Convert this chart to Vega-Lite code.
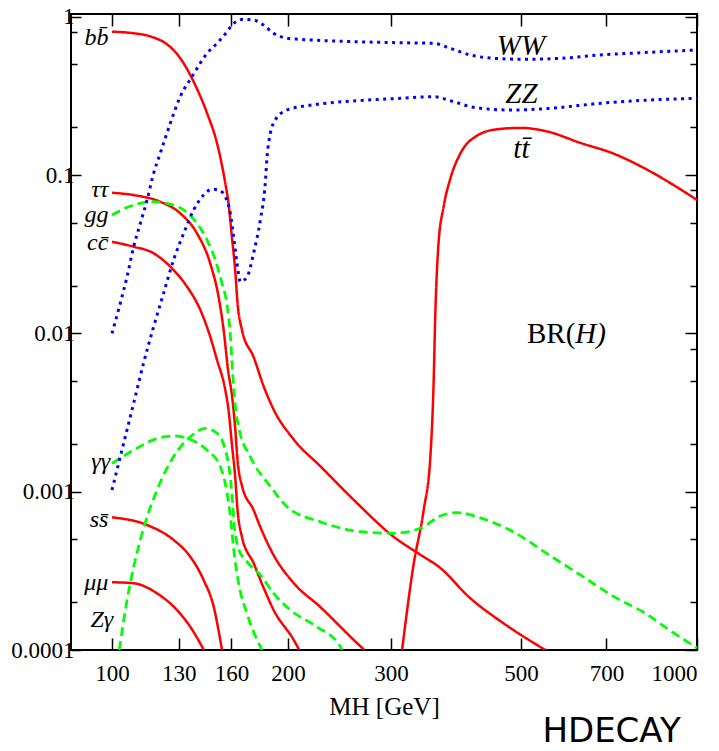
{
"$schema":"https://vega.github.io/schema/vega-lite/v6.json",
"width":626,"height":636,
"autosize":{"type":"none"},
"padding":{"left":71,"top":14,"right":22,"bottom":101},
"title":{"text":"HDECAY","orient":"bottom","anchor":"end","font":"DejaVu Sans","fontSize":34,"fontWeight":"normal","color":"black","offset":-4,"dx":-17},
"config":{"view":{"stroke":"black","strokeWidth":2}},
"datasets":{
"curves":[
{"ch":"bb","k":"f","M":100,"BR":0.806},{"ch":"bb","k":"f","M":108,"BR":0.79},{"ch":"bb","k":"f","M":116.3,"BR":0.752},{"ch":"bb","k":"f","M":124.2,"BR":0.67},{"ch":"bb","k":"f","M":128.3,"BR":0.6},{"ch":"bb","k":"f","M":132.6,"BR":0.508},{"ch":"bb","k":"f","M":137.9,"BR":0.389},{"ch":"bb","k":"f","M":145.4,"BR":0.246},{"ch":"bb","k":"f","M":151.2,"BR":0.159},{"ch":"bb","k":"f","M":156.2,"BR":0.0888},{"ch":"bb","k":"f","M":158.2,"BR":0.0663},{"ch":"bb","k":"f","M":160.3,"BR":0.0408},{"ch":"bb","k":"f","M":162.4,"BR":0.0251},{"ch":"bb","k":"f","M":163.9,"BR":0.0156},{"ch":"bb","k":"f","M":166.8,"BR":0.0105},{"ch":"bb","k":"f","M":174.6,"BR":0.0071},{"ch":"bb","k":"f","M":181.6,"BR":0.00465},{"ch":"bb","k":"f","M":188.9,"BR":0.00331},{"ch":"bb","k":"f","M":204.4,"BR":0.00214},{"ch":"bb","k":"f","M":227,"BR":0.00145},{"ch":"bb","k":"f","M":258.8,"BR":0.00089},{"ch":"bb","k":"f","M":302.9,"BR":0.00052},{"ch":"bb","k":"f","M":336.5,"BR":0.0004},{"ch":"bb","k":"f","M":362.6,"BR":0.000334},{"ch":"bb","k":"f","M":408.2,"BR":0.000215},{"ch":"bb","k":"f","M":470,"BR":0.000145},{"ch":"bb","k":"f","M":550.6,"BR":0.0001},
{"ch":"tau","k":"f","M":100,"BR":0.0774},{"ch":"tau","k":"f","M":108.9,"BR":0.0748},{"ch":"tau","k":"f","M":120.9,"BR":0.0679},{"ch":"tau","k":"f","M":130.8,"BR":0.0574},{"ch":"tau","k":"f","M":139.7,"BR":0.0429},{"ch":"tau","k":"f","M":147.2,"BR":0.0277},{"ch":"tau","k":"f","M":152.1,"BR":0.01706},{"ch":"tau","k":"f","M":155.2,"BR":0.0105},{"ch":"tau","k":"f","M":157.9,"BR":0.00587},{"ch":"tau","k":"f","M":160.3,"BR":0.0041},{"ch":"tau","k":"f","M":162.4,"BR":0.00253},{"ch":"tau","k":"f","M":163.9,"BR":0.00159},{"ch":"tau","k":"f","M":166.8,"BR":0.00109},{"ch":"tau","k":"f","M":174.6,"BR":0.000766},{"ch":"tau","k":"f","M":179.3,"BR":0.000598},{"ch":"tau","k":"f","M":188.9,"BR":0.000398},{"ch":"tau","k":"f","M":204.4,"BR":0.000265},{"ch":"tau","k":"f","M":227,"BR":0.000187},{"ch":"tau","k":"f","M":258.8,"BR":0.000116},{"ch":"tau","k":"f","M":270,"BR":0.0001},
{"ch":"cc","k":"f","M":100,"BR":0.0379},{"ch":"cc","k":"f","M":108.9,"BR":0.0353},{"ch":"cc","k":"f","M":117.8,"BR":0.0321},{"ch":"cc","k":"f","M":125.8,"BR":0.0264},{"ch":"cc","k":"f","M":134.4,"BR":0.0197},{"ch":"cc","k":"f","M":141.6,"BR":0.01406},{"ch":"cc","k":"f","M":147.2,"BR":0.00953},{"ch":"cc","k":"f","M":151.2,"BR":0.00679},{"ch":"cc","k":"f","M":156.2,"BR":0.00439},{"ch":"cc","k":"f","M":158.2,"BR":0.00328},{"ch":"cc","k":"f","M":160.3,"BR":0.002},{"ch":"cc","k":"f","M":162.4,"BR":0.00124},{"ch":"cc","k":"f","M":163.9,"BR":0.000766},{"ch":"cc","k":"f","M":166.8,"BR":0.000518},{"ch":"cc","k":"f","M":174.6,"BR":0.000354},{"ch":"cc","k":"f","M":181.4,"BR":0.00025},{"ch":"cc","k":"f","M":188.9,"BR":0.000179},{"ch":"cc","k":"f","M":204.4,"BR":0.000116},{"ch":"cc","k":"f","M":209,"BR":0.0001},
{"ch":"ss","k":"f","M":100,"BR":0.000689},{"ch":"ss","k":"f","M":114.8,"BR":0.000616},{"ch":"ss","k":"f","M":127.4,"BR":0.000496},{"ch":"ss","k":"f","M":136.1,"BR":0.000388},{"ch":"ss","k":"f","M":143.4,"BR":0.000277},{"ch":"ss","k":"f","M":149.2,"BR":0.000188},{"ch":"ss","k":"f","M":154.2,"BR":0.0001},
{"ch":"mu","k":"f","M":100,"BR":0.000268},{"ch":"mu","k":"f","M":108.9,"BR":0.000264},{"ch":"mu","k":"f","M":119.4,"BR":0.000228},{"ch":"mu","k":"f","M":129.1,"BR":0.000179},{"ch":"mu","k":"f","M":136.1,"BR":0.00014},{"ch":"mu","k":"f","M":143.6,"BR":0.0001},
{"ch":"tt","k":"f","M":313.2,"BR":0.0001},{"ch":"tt","k":"f","M":327.8,"BR":0.000348},{"ch":"tt","k":"f","M":340.9,"BR":0.000759},{"ch":"tt","k":"f","M":350.1,"BR":0.001657},{"ch":"tt","k":"f","M":354.5,"BR":0.00467},{"ch":"tt","k":"f","M":357,"BR":0.0132},{"ch":"tt","k":"f","M":361.6,"BR":0.0373},{"ch":"tt","k":"f","M":368.8,"BR":0.0629},{"ch":"tt","k":"f","M":378.7,"BR":0.095},{"ch":"tt","k":"f","M":393.9,"BR":0.1367},{"ch":"tt","k":"f","M":420.6,"BR":0.1774},{"ch":"tt","k":"f","M":455,"BR":0.1947},{"ch":"tt","k":"f","M":498.9,"BR":0.1987},{"ch":"tt","k":"f","M":554.1,"BR":0.1888},{"ch":"tt","k":"f","M":631.8,"BR":0.1598},{"ch":"tt","k":"f","M":720.1,"BR":0.1367},{"ch":"tt","k":"f","M":821.4,"BR":0.1083},{"ch":"tt","k":"f","M":936.5,"BR":0.0814},{"ch":"tt","k":"f","M":1000,"BR":0.0697},
{"ch":"gg","k":"g","M":100,"BR":0.056},{"ch":"gg","k":"g","M":108.9,"BR":0.0648},{"ch":"gg","k":"g","M":117.8,"BR":0.0679},{"ch":"gg","k":"g","M":124.2,"BR":0.0663},{"ch":"gg","k":"g","M":132.6,"BR":0.0602},{"ch":"gg","k":"g","M":139.7,"BR":0.0496},{"ch":"gg","k":"g","M":145.4,"BR":0.0389},{"ch":"gg","k":"g","M":150.2,"BR":0.0291},{"ch":"gg","k":"g","M":154.2,"BR":0.0207},{"ch":"gg","k":"g","M":157.3,"BR":0.0151},{"ch":"gg","k":"g","M":159.4,"BR":0.00953},{"ch":"gg","k":"g","M":160.9,"BR":0.00546},{"ch":"gg","k":"g","M":162.4,"BR":0.00353},{"ch":"gg","k":"g","M":164.6,"BR":0.00257},{"ch":"gg","k":"g","M":172.4,"BR":0.00166},{"ch":"gg","k":"g","M":186.5,"BR":0.00108},{"ch":"gg","k":"g","M":199.1,"BR":0.000804},{"ch":"gg","k":"g","M":227,"BR":0.000646},{"ch":"gg","k":"g","M":265.7,"BR":0.000559},{"ch":"gg","k":"g","M":302.9,"BR":0.000546},{"ch":"gg","k":"g","M":336.5,"BR":0.000587},{"ch":"gg","k":"g","M":364,"BR":0.000702},{"ch":"gg","k":"g","M":388.8,"BR":0.000739},{"ch":"gg","k":"g","M":426.2,"BR":0.000683},{"ch":"gg","k":"g","M":485.9,"BR":0.000556},{"ch":"gg","k":"g","M":554.1,"BR":0.000406},{"ch":"gg","k":"g","M":631.8,"BR":0.000298},{"ch":"gg","k":"g","M":720.1,"BR":0.000218},{"ch":"gg","k":"g","M":821.4,"BR":0.000168},{"ch":"gg","k":"g","M":888.6,"BR":0.000137},{"ch":"gg","k":"g","M":1000,"BR":0.000103},
{"ch":"gaga","k":"g","M":100,"BR":0.00151},{"ch":"gaga","k":"g","M":108.9,"BR":0.00183},{"ch":"gaga","k":"g","M":119.4,"BR":0.00217},{"ch":"gaga","k":"g","M":127.4,"BR":0.00225},{"ch":"gaga","k":"g","M":136.1,"BR":0.00214},{"ch":"gaga","k":"g","M":145.4,"BR":0.00183},{"ch":"gaga","k":"g","M":153.2,"BR":0.00144},{"ch":"gaga","k":"g","M":157.3,"BR":0.00098},{"ch":"gaga","k":"g","M":159.4,"BR":0.000695},{"ch":"gaga","k":"g","M":161.5,"BR":0.000428},{"ch":"gaga","k":"g","M":164.6,"BR":0.000264},{"ch":"gaga","k":"g","M":170.1,"BR":0.00017},{"ch":"gaga","k":"g","M":179.3,"BR":0.000105},{"ch":"gaga","k":"g","M":180.5,"BR":0.0001},
{"ch":"Zga","k":"g","M":102.9,"BR":0.0001},{"ch":"Zga","k":"g","M":106.1,"BR":0.000207},{"ch":"Zga","k":"g","M":111.8,"BR":0.000496},{"ch":"Zga","k":"g","M":119.4,"BR":0.001025},{"ch":"Zga","k":"g","M":127.4,"BR":0.001665},{"ch":"Zga","k":"g","M":136.1,"BR":0.002226},{"ch":"Zga","k":"g","M":144.4,"BR":0.00251},{"ch":"Zga","k":"g","M":151.2,"BR":0.00234},{"ch":"Zga","k":"g","M":157.3,"BR":0.00166},{"ch":"Zga","k":"g","M":160.3,"BR":0.00098},{"ch":"Zga","k":"g","M":161.8,"BR":0.000616},{"ch":"Zga","k":"g","M":164.4,"BR":0.000441},{"ch":"Zga","k":"g","M":170.2,"BR":0.00036},{"ch":"Zga","k":"g","M":179.3,"BR":0.000298},{"ch":"Zga","k":"g","M":188.9,"BR":0.000228},{"ch":"Zga","k":"g","M":201.7,"BR":0.000179},{"ch":"Zga","k":"g","M":224.1,"BR":0.00014},{"ch":"Zga","k":"g","M":245.7,"BR":0.000105},{"ch":"Zga","k":"g","M":247.5,"BR":0.0001},
{"ch":"WW","k":"v","M":100,"BR":0.01},{"ch":"WW","k":"v","M":103.3,"BR":0.0155},{"ch":"WW","k":"v","M":106.1,"BR":0.0228},{"ch":"WW","k":"v","M":108.9,"BR":0.0353},{"ch":"WW","k":"v","M":111.8,"BR":0.0496},{"ch":"WW","k":"v","M":114.8,"BR":0.0696},{"ch":"WW","k":"v","M":117.8,"BR":0.1026},{"ch":"WW","k":"v","M":120.9,"BR":0.1373},{"ch":"WW","k":"v","M":125.8,"BR":0.2126},{"ch":"WW","k":"v","M":130.8,"BR":0.3128},{"ch":"WW","k":"v","M":137,"BR":0.4183},{"ch":"WW","k":"v","M":145.4,"BR":0.5882},{"ch":"WW","k":"v","M":152.1,"BR":0.696},{"ch":"WW","k":"v","M":157.3,"BR":0.805},{"ch":"WW","k":"v","M":161.4,"BR":0.91},{"ch":"WW","k":"v","M":167.9,"BR":0.964},{"ch":"WW","k":"v","M":174.6,"BR":0.954},{"ch":"WW","k":"v","M":181.6,"BR":0.887},{"ch":"WW","k":"v","M":188.9,"BR":0.787},{"ch":"WW","k":"v","M":199.1,"BR":0.732},{"ch":"WW","k":"v","M":209.9,"BR":0.721},{"ch":"WW","k":"v","M":311,"BR":0.686},{"ch":"WW","k":"v","M":354.5,"BR":0.68},{"ch":"WW","k":"v","M":378.7,"BR":0.632},{"ch":"WW","k":"v","M":409.8,"BR":0.574},{"ch":"WW","k":"v","M":449.1,"BR":0.547},{"ch":"WW","k":"v","M":505.2,"BR":0.539},{"ch":"WW","k":"v","M":583.9,"BR":0.547},{"ch":"WW","k":"v","M":683.5,"BR":0.574},{"ch":"WW","k":"v","M":800,"BR":0.593},{"ch":"WW","k":"v","M":1000,"BR":0.617},
{"ch":"ZZ","k":"v","M":100,"BR":0.001025},{"ch":"ZZ","k":"v","M":103.3,"BR":0.00166},{"ch":"ZZ","k":"v","M":108.9,"BR":0.00362},{"ch":"ZZ","k":"v","M":113.2,"BR":0.00647},{"ch":"ZZ","k":"v","M":117.8,"BR":0.01102},{"ch":"ZZ","k":"v","M":122.5,"BR":0.01792},{"ch":"ZZ","k":"v","M":127.4,"BR":0.0291},{"ch":"ZZ","k":"v","M":132.6,"BR":0.0429},{"ch":"ZZ","k":"v","M":137.9,"BR":0.0602},{"ch":"ZZ","k":"v","M":143.4,"BR":0.0748},{"ch":"ZZ","k":"v","M":148.2,"BR":0.0814},{"ch":"ZZ","k":"v","M":152.1,"BR":0.0806},{"ch":"ZZ","k":"v","M":156.2,"BR":0.073},{"ch":"ZZ","k":"v","M":159.3,"BR":0.0574},{"ch":"ZZ","k":"v","M":161.4,"BR":0.0408},{"ch":"ZZ","k":"v","M":163.6,"BR":0.0277},{"ch":"ZZ","k":"v","M":165.7,"BR":0.0212},{"ch":"ZZ","k":"v","M":170.2,"BR":0.0228},{"ch":"ZZ","k":"v","M":174.6,"BR":0.0321},{"ch":"ZZ","k":"v","M":179.3,"BR":0.0521},{"ch":"ZZ","k":"v","M":182.8,"BR":0.0888},{"ch":"ZZ","k":"v","M":184.1,"BR":0.1307},{"ch":"ZZ","k":"v","M":186.5,"BR":0.1837},{"ch":"ZZ","k":"v","M":190.2,"BR":0.2229},{"ch":"ZZ","k":"v","M":196.5,"BR":0.2515},{"ch":"ZZ","k":"v","M":209.9,"BR":0.2705},{"ch":"ZZ","k":"v","M":311,"BR":0.3057},{"ch":"ZZ","k":"v","M":354.5,"BR":0.3128},{"ch":"ZZ","k":"v","M":383.7,"BR":0.2909},{"ch":"ZZ","k":"v","M":415,"BR":0.2682},{"ch":"ZZ","k":"v","M":479.7,"BR":0.2578},{"ch":"ZZ","k":"v","M":561.4,"BR":0.2642},{"ch":"ZZ","k":"v","M":683.5,"BR":0.2843},{"ch":"ZZ","k":"v","M":832,"BR":0.2982},{"ch":"ZZ","k":"v","M":1000,"BR":0.3057}
],
"labels":[
{"t":"bb̄","g":"L","M":98.6,"BR":0.6635},
{"t":"ττ","g":"L","M":98.6,"BR":0.0725},
{"t":"gg","g":"L","M":98.6,"BR":0.0505},
{"t":"cc̄","g":"L","M":98.6,"BR":0.0336},
{"t":"γγ","g":"L","M":99.3,"BR":0.00139},
{"t":"ss̄","g":"L","M":98.6,"BR":0.000598},
{"t":"μμ","g":"L","M":98.6,"BR":0.000239},
{"t":"Zγ","g":"L","M":100.5,"BR":0.00014},
{"t":"WW","g":"C","M":500,"BR":0.574},
{"t":"ZZ","g":"C","M":501,"BR":0.285},
{"t":"tt̄","g":"C","M":501,"BR":0.128},
{"t":"BR(","g":"B1","M":619.4,"BR":0.0087},
{"t":"H)","g":"B2","M":619.4,"BR":0.0087}
]},
"resolve":{"axis":{"x":"independent","y":"independent"}},
"layer":[
{"data":{"name":"curves"},
 "mark":{"type":"line","interpolate":"monotone","clip":true,"strokeCap":"butt"},
 "encoding":{
  "x":{"field":"M","type":"quantitative","scale":{"type":"log","domain":[85.1,1000],"nice":false,"zero":false},
   "axis":{"orient":"bottom","values":[100,130,160,200,300,500,700,1000],"format":"d","domain":false,"grid":false,"tickSize":-12,"tickColor":"black","tickWidth":1.5,"labelPadding":24,"labelFont":"Liberation Serif","labelFontSize":23,"labelColor":"black","title":"MH [GeV]","titleFont":"Liberation Serif","titleFontSize":25,"titleFontWeight":"normal","titleColor":"black","titlePadding":9,"labelOverlap":false}},
  "y":{"field":"BR","type":"quantitative","scale":{"type":"log","domain":[0.0001,1.042],"nice":false,"zero":false},
   "axis":{"orient":"left","values":[0.0001,0.0002,0.0005,0.001,0.002,0.005,0.01,0.02,0.05,0.1,0.2,0.5,0.8,1],
    "labelExpr":"indexof([1,0.1,0.01,0.001,0.0001], datum.value) >= 0 ? '' + datum.value : ''",
    "tickSize":{"condition":{"test":"indexof([1,0.1,0.01,0.001,0.0001], datum.value) >= 0","value":-10},"value":-6},
    "domain":false,"grid":false,"tickColor":"black","tickWidth":1.5,"labelPadding":7,"labelFont":"Liberation Serif","labelFontSize":23,"labelColor":"black","labelOverlap":false,"title":null}},
  "color":{"field":"k","type":"nominal","scale":{"domain":["f","g","v"],"range":["#ff0000","#00ff00","#0000ff"]},"legend":null},
  "strokeDash":{"field":"k","type":"nominal","scale":{"domain":["f","g","v"],"range":[[1,0],[9,5],[3,4.5]]},"legend":null},
  "strokeWidth":{"field":"k","type":"nominal","scale":{"domain":["f","g","v"],"range":[2.5,3,3.2]},"legend":null},
  "detail":{"field":"ch"}
 }},
{"data":{"name":"labels"},"transform":[{"filter":"datum.g=='L'"}],
 "mark":{"type":"text","align":"right","baseline":"alphabetic","font":"Liberation Serif","fontStyle":"italic","fontSize":24,"color":"black"},
 "encoding":{
  "x":{"field":"M","type":"quantitative","axis":{"orient":"top","values":[100,130,160,200,300,500,700,1000],"labels":false,"domain":false,"grid":false,"tickSize":-12,"tickColor":"black","tickWidth":1.5,"title":null}},
  "y":{"field":"BR","type":"quantitative","axis":{"orient":"right","values":[0.0001,0.0002,0.0005,0.0008,0.001,0.002,0.005,0.008,0.01,0.02,0.05,0.08,0.1,0.2,0.5,0.8,1],"labels":false,"domain":false,"grid":false,"tickColor":"black","tickWidth":1.5,
    "tickSize":{"condition":{"test":"indexof([1,0.1,0.01,0.001,0.0001], datum.value) >= 0","value":-12},"value":-7},"title":null}},
  "text":{"field":"t"}
 }},
{"data":{"name":"labels"},"transform":[{"filter":"datum.g=='C'"}],
 "mark":{"type":"text","align":"center","baseline":"alphabetic","font":"Liberation Serif","fontStyle":"italic","fontSize":29,"color":"black"},
 "encoding":{
  "x":{"field":"M","type":"quantitative","axis":null},
  "y":{"field":"BR","type":"quantitative","axis":null},
  "text":{"field":"t"}
 }},
{"data":{"name":"labels"},"transform":[{"filter":"datum.g=='B1'"}],
 "mark":{"type":"text","align":"right","baseline":"alphabetic","font":"Liberation Serif","fontSize":29,"color":"black"},
 "encoding":{
  "x":{"field":"M","type":"quantitative","axis":null},
  "y":{"field":"BR","type":"quantitative","axis":null},
  "text":{"field":"t"}
 }},
{"data":{"name":"labels"},"transform":[{"filter":"datum.g=='B2'"}],
 "mark":{"type":"text","align":"left","baseline":"alphabetic","font":"Liberation Serif","fontStyle":"italic","fontSize":29,"color":"black"},
 "encoding":{
  "x":{"field":"M","type":"quantitative","axis":null},
  "y":{"field":"BR","type":"quantitative","axis":null},
  "text":{"field":"t"}
 }}
]
}
